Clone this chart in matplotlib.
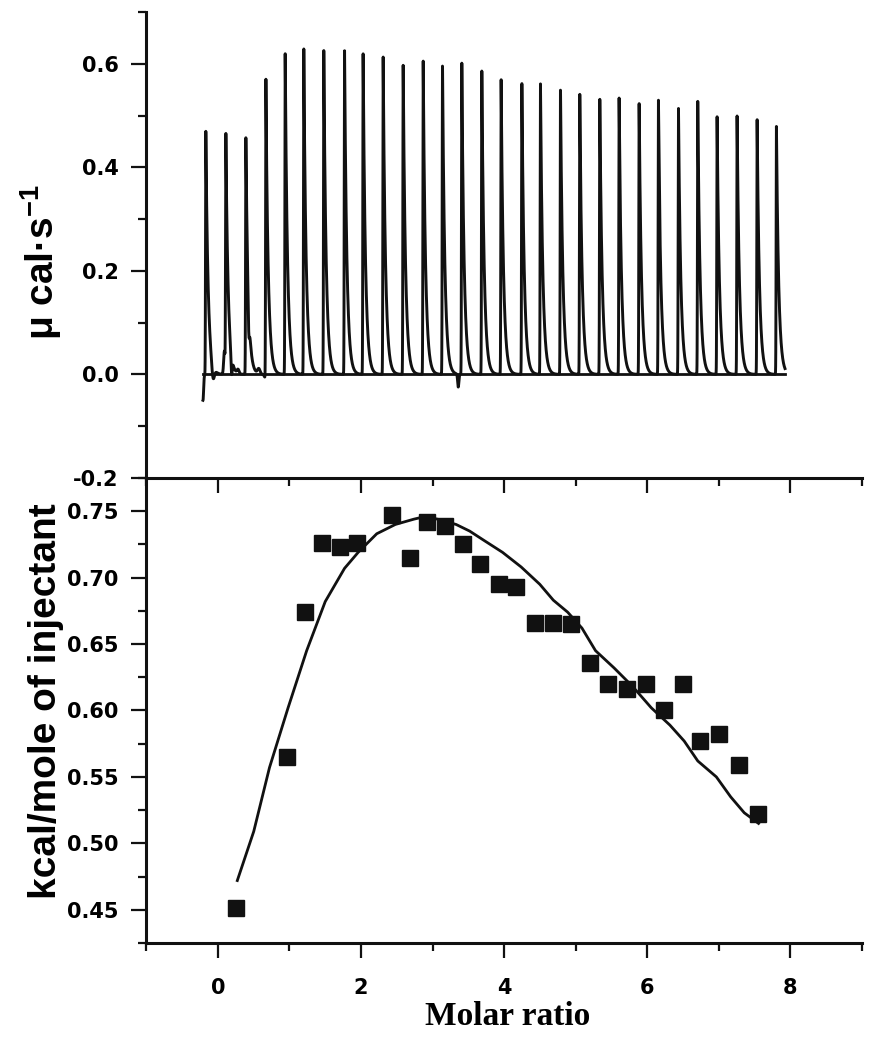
import numpy as np
import matplotlib.pyplot as plt
from matplotlib.ticker import MultipleLocator, FormatStrFormatter

plt.rcParams['mathtext.fontset'] = 'custom'
plt.rcParams['mathtext.rm'] = 'Liberation Sans:bold'
plt.rcParams['mathtext.bf'] = 'Liberation Sans:bold'

# ---------------------------------------------------------------
# raw thermogram: injection positions (molar ratio axis), peak heights (ucal/s)
peak_pos = [-0.17, 0.11, 0.39, 0.67, 0.94, 1.20, 1.48, 1.77, 2.03, 2.31,
            2.59, 2.87, 3.14, 3.41, 3.69, 3.96, 4.25, 4.51, 4.79, 5.06,
            5.34, 5.61, 5.89, 6.16, 6.44, 6.71, 6.98, 7.26, 7.54, 7.81]
peak_height = [0.470, 0.461, 0.458, 0.583, 0.621, 0.632, 0.627, 0.626, 0.621, 0.614,
               0.600, 0.605, 0.599, 0.601, 0.590, 0.569, 0.567, 0.561, 0.554, 0.541,
               0.536, 0.534, 0.527, 0.530, 0.517, 0.528, 0.501, 0.500, 0.494, 0.480]

# baseline disturbances of the raw trace
dist_pos = [-0.21, -0.07, 0.09, 0.19, 0.28, 0.43, 0.57, 0.68, 3.36]
dist_amp = [-0.050, -0.027, 0.045, -0.037, 0.008, -0.050, 0.010, -0.012, -0.025]
dist_wid = [0.012, 0.025, 0.015, 0.012, 0.02, 0.012, 0.025, 0.03, 0.012]

trace_start, trace_end = -0.21, 7.93

# ---------------------------------------------------------------
# integrated heats
ratio = [0.25, 0.97, 1.21, 1.46, 1.70, 1.94, 2.43, 2.68, 2.92, 3.18,
         3.42, 3.67, 3.93, 4.17, 4.43, 4.68, 4.94, 5.20, 5.45, 5.72,
         5.98, 6.24, 6.50, 6.74, 7.00, 7.28, 7.55]
heat = [0.451, 0.565, 0.674, 0.726, 0.723, 0.726, 0.747, 0.715, 0.742, 0.739,
        0.725, 0.710, 0.695, 0.693, 0.666, 0.666, 0.665, 0.636, 0.620, 0.616,
        0.620, 0.600, 0.620, 0.577, 0.582, 0.559, 0.522]

# fitted curve
fit_x = [0.27, 0.50, 0.72, 0.98, 1.24, 1.50, 1.77, 1.96, 2.22, 2.48,
         2.74, 2.90, 3.07, 3.33, 3.52, 3.72, 3.98, 4.24, 4.50, 4.69,
         4.89, 5.09, 5.28, 5.54, 5.80, 6.06, 6.32, 6.52, 6.71, 6.97,
         7.17, 7.36, 7.56]
fit_y = [0.472, 0.509, 0.557, 0.602, 0.645, 0.682, 0.707, 0.719, 0.733, 0.740,
         0.744, 0.746, 0.744, 0.740, 0.735, 0.728, 0.719, 0.708, 0.695, 0.683,
         0.674, 0.662, 0.645, 0.632, 0.618, 0.602, 0.589, 0.577, 0.562, 0.550,
         0.535, 0.523, 0.515]

# ---------------------------------------------------------------
fig = plt.figure(figsize=(8.9, 10.5), dpi=100)
ax1 = fig.add_axes([0.1646, 0.5448, 0.8034, 0.4438])
ax2 = fig.add_axes([0.1646, 0.1019, 0.8034, 0.4429])
ax2.patch.set_visible(False)

ink = '#111111'
tick_font = dict(family='DejaVu Sans', weight='bold', size=15)

# build the raw trace from the read peak heights
x = np.linspace(trace_start, trace_end, 9000)
sig = np.zeros_like(x)
for p, h in zip(peak_pos, peak_height):
    d = x - p
    sig += h * np.where(d < 0, np.exp(-(d / 0.006) ** 2), np.exp(-np.clip(d, 0, None) / 0.032))
for p, a, w in zip(dist_pos, dist_amp, dist_wid):
    sig += a * np.exp(-((x - p) / w) ** 2)

ax1.plot([trace_start, trace_end], [0, 0], color=ink, lw=2.0)
ax1.plot(x, sig, color=ink, lw=2.1)

# bottom panel
ax2.plot(fit_x, fit_y, color=ink, lw=2.0)
ax2.plot(ratio, heat, ls='none', marker='s', ms=11.5, color=ink)

# ---------------------------------------------------------------
for ax in (ax1, ax2):
    ax.set_xlim(-1, 9)
    for s in ('top', 'right'):
        ax.spines[s].set_visible(False)
    for s in ('left', 'bottom'):
        ax.spines[s].set_linewidth(2.2)
        ax.spines[s].set_color(ink)
    ax.xaxis.set_major_locator(MultipleLocator(2))
    ax.xaxis.set_minor_locator(MultipleLocator(1))
    ax.tick_params(which='major', direction='out', length=11, width=1.6, color=ink, pad=9)
    ax.tick_params(which='minor', direction='out', length=5.5, width=1.6, color=ink)

ax1.set_ylim(-0.2, 0.7)
ax1.yaxis.set_major_locator(MultipleLocator(0.2))
ax1.yaxis.set_minor_locator(MultipleLocator(0.1))
ax1.yaxis.set_major_formatter(FormatStrFormatter('%.1f'))
ax1.tick_params(axis='x', labelbottom=False)

ax2.set_ylim(0.425, 0.775)
ax2.yaxis.set_major_locator(MultipleLocator(0.05))
ax2.yaxis.set_minor_locator(MultipleLocator(0.025))
ax2.yaxis.set_major_formatter(FormatStrFormatter('%.2f'))
ax2.tick_params(axis='x', which='major', pad=14)

for ax in (ax1, ax2):
    for lab in ax.get_xticklabels() + ax.get_yticklabels():
        lab.set_fontproperties(tick_font)

ax1.set_ylabel(r'μ cal·s$^{\mathbf{-1}}$', family='Liberation Sans', weight='bold', fontsize=28)
ax1.yaxis.set_label_coords(-0.115, 0.4635)
ax2.set_ylabel('kcal/mole of injectant', family='Liberation Sans', weight='bold', fontsize=28)
ax2.yaxis.set_label_coords(-0.115, 0.52)
ax2.set_xlabel('Molar ratio', family='Liberation Serif', weight='bold', fontsize=24)
ax2.xaxis.set_label_coords(0.505, -0.125)

fig.savefig('out.png', dpi=100)
